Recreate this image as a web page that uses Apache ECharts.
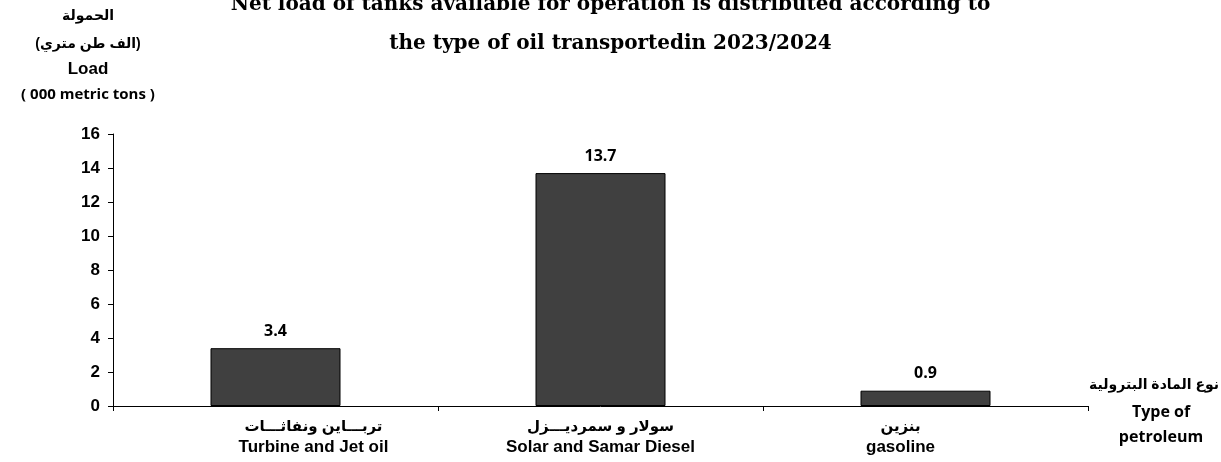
<!DOCTYPE html>
<html>
<head>
<meta charset="utf-8">
<script src="https://cdn.jsdelivr.net/npm/echarts@6/dist/echarts.min.js"></script>
<style>
html,body{margin:0;padding:0;background:#fff;}
#c{width:1221px;height:462px;}
</style>
</head>
<body>
<div id="c"></div>
<script>
const categoriesAr = ['تربـــاين ونفاثـــات', 'سولار و سمرديـــزل', 'بنزين'];
const categoriesEn = ['Turbine and Jet oil', 'Solar and Samar Diesel', 'gasoline'];
const loadValues = [3.4, 13.7, 0.9];
const yTicks = [0, 2, 4, 6, 8, 10, 12, 14, 16];

const titleLines = ['Net load of tanks available for operation is distributed according to', 'the type of oil transportedin 2023/2024'];
const yNameLines = ['الحمولة', '(الف طن متري)', 'Load', '( 000 metric tons )'];
const xNameLines = ['نوع المادة البترولية', 'Type of', 'petroleum'];

const sans = 'Arial, "Liberation Sans", "DejaVu Sans", sans-serif';
const calib = '"Open Sans", "Liberation Sans", sans-serif';
// label shifts (visual offsets of the wrapped category labels in the original)
const labelPads = [[0, 0, 0, 76], [0, 0, 0, 0], [0, 50, 0, 0]];

const chart = echarts.init(document.getElementById('c'));
chart.setOption({
  animation: false,
  backgroundColor: '#fff',
  title: {
    text: titleLines.join('\n'),
    left: 'center',
    top: -20,
    textStyle: {fontFamily: '"DejaVu Serif", "Liberation Serif", serif', fontWeight: 'bold', fontSize: 20, lineHeight: 39, color: '#000'}
  },
  grid: {left: 113, right: 133, top: 134, bottom: 56, containLabel: false},
  xAxis: {
    type: 'category',
    data: categoriesEn.map((e, i) => ({value: categoriesAr[i] + '|' + e, textStyle: {padding: labelPads[i]}})),
    axisLine: {lineStyle: {color: '#000', width: 1}},
    axisTick: {show: true, inside: false, length: 5, alignWithLabel: false, lineStyle: {color: '#000'}},
    axisLabel: {
      margin: 11,
      interval: 0,
      formatter: v => { const p = v.split('|'); return '{ar|' + p[0] + '}\n{en|' + p[1] + '}'; },
      rich: {
        ar: {fontFamily: sans, fontWeight: 'bold', fontSize: 15, color: '#000', lineHeight: 20},
        en: {fontFamily: sans, fontWeight: 'bold', fontSize: 17, color: '#000', lineHeight: 20}
      }
    },
    splitLine: {show: false}
  },
  yAxis: {
    type: 'value',
    min: 0, max: 16, interval: 2,
    axisLine: {show: true, lineStyle: {color: '#000', width: 1}},
    axisTick: {show: true, length: 5, lineStyle: {color: '#000'}},
    axisLabel: {fontFamily: sans, fontWeight: 'bold', fontSize: 17, color: '#000', margin: 13,
      formatter: v => yTicks.includes(v) ? String(v) : ''},
    splitLine: {show: false}
  },
  series: [{
    type: 'bar',
    data: loadValues,
    barWidth: '40%',
    itemStyle: {color: '#404040', borderColor: '#000', borderWidth: 1},
    label: {show: true, position: 'top', distance: 9, fontFamily: calib, fontWeight: 'bold', fontSize: 16, color: '#000',
      formatter: p => p.value.toFixed(1)}
  }],
  graphic: [
    ...yNameLines.map((t, i) => ({
      type: 'text', x: 88, y: [16, 44, 69, 95][i],
      style: {text: t, fill: '#000', font: 'bold ' + [14, 14, 17, 15][i] + 'px ' + (i === 3 ? calib : sans), textAlign: 'center', textVerticalAlign: 'middle'}
    })),
    ...xNameLines.map((t, i) => ({
      type: 'text', x: i === 0 ? 1219 : 1161, y: [385, 412, 437][i],
      style: {text: t, fill: '#000', font: 'bold ' + (i === 0 ? '14px ' + sans : '16px ' + calib), textAlign: i === 0 ? 'right' : 'center', textVerticalAlign: 'middle'}
    }))
  ]
});
</script>
</body>
</html>
